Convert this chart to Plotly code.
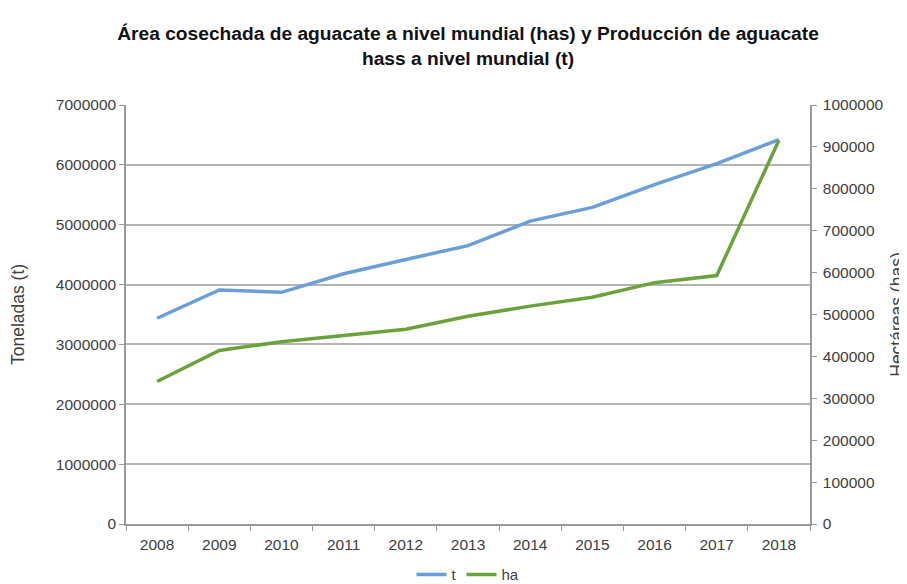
import plotly.graph_objects as go

years = ["2008", "2009", "2010", "2011", "2012", "2013", "2014", "2015", "2016", "2017", "2018"]
toneladas = [3437000, 3910000, 3870000, 4180000, 4420000, 4650000, 5060000, 5290000, 5670000, 6020000, 6420000]
hectareas = [340000, 414000, 435000, 449000, 465000, 496000, 520000, 541000, 576000, 593000, 916000]

left_ticks = [0, 1000000, 2000000, 3000000, 4000000, 5000000, 6000000, 7000000]
right_ticks = [0, 100000, 200000, 300000, 400000, 500000, 600000, 700000, 800000, 900000, 1000000]

font_family = "Liberation Sans, Arial, sans-serif"
tick_color = "#404040"
axis_color = "#9a9a9a"

fig = go.Figure()
fig.add_trace(go.Scatter(x=years, y=toneladas, name="t", mode="lines",
                         line=dict(color="#6a9fd8", width=3.5)))
fig.add_trace(go.Scatter(x=years, y=hectareas, name="ha", mode="lines", yaxis="y2",
                         line=dict(color="#6aa33c", width=3.5)))

# page body has an 8px margin, so the figure is sized to fill the remaining window
fig.update_layout(
    width=899, height=576,
    paper_bgcolor="white", plot_bgcolor="white",
    margin=dict(l=118, r=97, t=97, b=60),
    title=dict(text="Área cosechada de aguacate a nivel mundial (has) y Producción de aguacate<br>hass a nivel mundial (t)",
               x=0.5, xref="paper", xanchor="center", y=0.944, yanchor="top",
               font=dict(family=font_family, size=19.2, color="#111111", weight="bold")),
    font=dict(family=font_family, size=15, color=tick_color),
    xaxis=dict(type="category", range=[-0.5, 10.5], showgrid=False, showline=True,
               linecolor=axis_color, linewidth=1.5, automargin=False,
               ticks="outside", tickson="boundaries", ticklen=5, tickcolor=axis_color,
               ticklabelstandoff=6,
               tickfont=dict(size=15.5, color=tick_color), mirror=False),
    yaxis=dict(range=[0, 7000000], tickvals=left_ticks, ticktext=[str(v) for v in left_ticks],
               showgrid=True, gridcolor="#b4b4b4", gridwidth=1.5, automargin=False,
               showline=True, linecolor=axis_color, linewidth=1.5,
               ticks="outside", ticklen=5, tickcolor=axis_color,
               tickfont=dict(size=15.5, color=tick_color), zeroline=False,
               title=dict(text="Toneladas (t)", font=dict(size=17.5, color=tick_color), standoff=27)),
    yaxis2=dict(range=[0, 1000000], tickvals=right_ticks, ticktext=[str(v) for v in right_ticks],
                overlaying="y", side="right", showgrid=False, automargin=False,
                showline=True, linecolor=axis_color, linewidth=1.5,
                ticks="outside", ticklen=5, tickcolor=axis_color, ticklabelstandoff=3,
                tickfont=dict(size=15.5, color=tick_color), zeroline=False,
                title=dict(text="Hectáreas (has)", font=dict(size=17.5, color=tick_color), standoff=19)),
    legend=dict(orientation="h", x=0.5, xref="paper", xanchor="center",
                y=0.016, yref="container", yanchor="middle",
                font=dict(size=15, color=tick_color), itemwidth=30, tracegroupgap=0),
    showlegend=True,
)

fig.write_html("out.html")
